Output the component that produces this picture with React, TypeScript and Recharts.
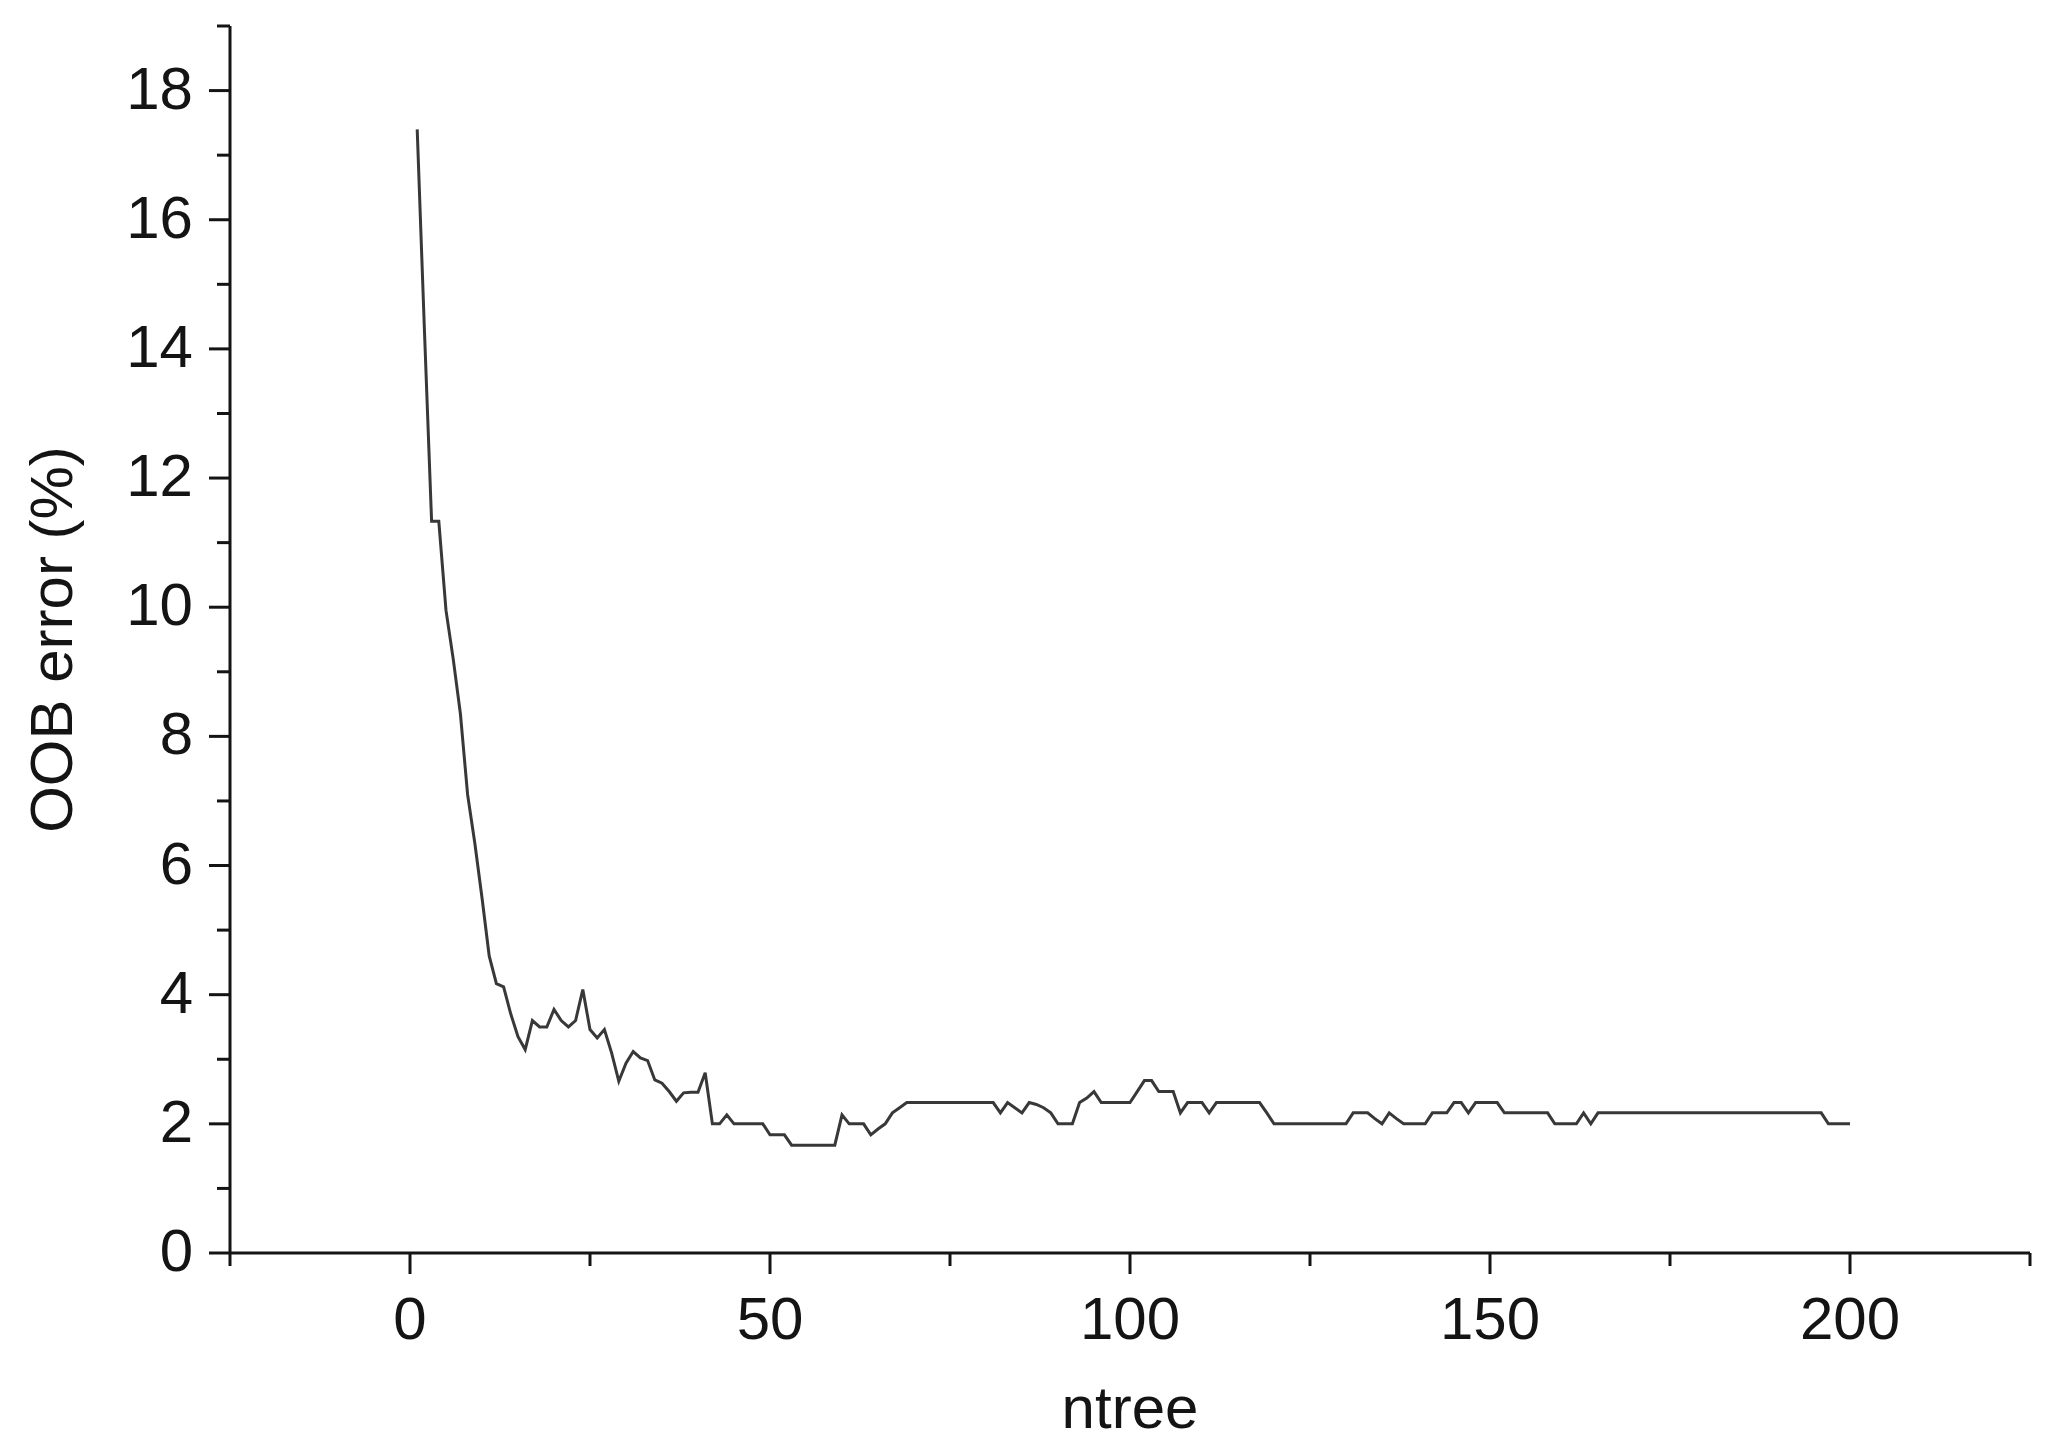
import React from 'react'

import { Label, Line, LineChart, XAxis, YAxis } from 'recharts'

// OOB error (%) for ntree = 1..200
const OOB_ERROR = [
  17.4, 14.3, 11.33, 11.33, 9.95, 9.2, 8.35, 7.1, 6.35, 5.5,
  4.6, 4.17, 4.12, 3.7, 3.35, 3.15, 3.6, 3.5, 3.5, 3.77,
  3.6, 3.5, 3.6, 4.08, 3.46, 3.33, 3.46, 3.1, 2.66, 2.94,
  3.12, 3.02, 2.98, 2.68, 2.63, 2.5, 2.35, 2.48, 2.49, 2.49,
  2.79, 2.0, 2.0, 2.14, 2.0, 2.0, 2.0, 2.0, 2.0, 1.83,
  1.83, 1.83, 1.67, 1.67, 1.67, 1.67, 1.67, 1.67, 1.67, 2.14,
  2.0, 2.0, 2.0, 1.83, 1.92, 2.0, 2.17, 2.25, 2.33, 2.33,
  2.33, 2.33, 2.33, 2.33, 2.33, 2.33, 2.33, 2.33, 2.33, 2.33,
  2.33, 2.17, 2.33, 2.25, 2.17, 2.33, 2.3, 2.25, 2.17, 2.0,
  2.0, 2.0, 2.33, 2.4, 2.5, 2.33, 2.33, 2.33, 2.33, 2.33,
  2.5, 2.67, 2.67, 2.5, 2.5, 2.5, 2.17, 2.33, 2.33, 2.33,
  2.17, 2.33, 2.33, 2.33, 2.33, 2.33, 2.33, 2.33, 2.17, 2.0,
  2.0, 2.0, 2.0, 2.0, 2.0, 2.0, 2.0, 2.0, 2.0, 2.0,
  2.17, 2.17, 2.17, 2.08, 2.0, 2.17, 2.08, 2.0, 2.0, 2.0,
  2.0, 2.17, 2.17, 2.17, 2.33, 2.33, 2.17, 2.33, 2.33, 2.33,
  2.33, 2.17, 2.17, 2.17, 2.17, 2.17, 2.17, 2.17, 2.0, 2.0,
  2.0, 2.0, 2.17, 2.0, 2.17, 2.17, 2.17, 2.17, 2.17, 2.17,
  2.17, 2.17, 2.17, 2.17, 2.17, 2.17, 2.17, 2.17, 2.17, 2.17,
  2.17, 2.17, 2.17, 2.17, 2.17, 2.17, 2.17, 2.17, 2.17, 2.17,
  2.17, 2.17, 2.17, 2.17, 2.17, 2.17, 2.0, 2.0, 2.0, 2.0,
]

const X_TICKS = [-25, 0, 25, 50, 75, 100, 125, 150, 175, 200, 225]
const Y_TICKS = [0, 1, 2, 3, 4, 5, 6, 7, 8, 9, 10, 11, 12, 13, 14, 15, 16, 17, 18, 19]

const data = OOB_ERROR.map((oob, i) => ({ ntree: i + 1, oob }))

const AXIS = '#141414'
const FONT = '"Liberation Sans", Arial, sans-serif'
const FONT_SIZE = 60

const XTick = (props: any) => {
  const { x, y, payload } = props
  const major = payload.value % 50 === 0
  return (
    <g>
      <line x1={x} y1={y} x2={x} y2={y + (major ? 21 : 13)} stroke={AXIS} strokeWidth={3} />
      {major && (
        <text x={x} y={y + 86} textAnchor="middle" fill={AXIS} fontFamily={FONT} fontSize={FONT_SIZE}>
          {payload.value}
        </text>
      )}
    </g>
  )
}

const YTick = (props: any) => {
  const { x, y, payload } = props
  const major = payload.value % 2 === 0
  return (
    <g>
      <line x1={x} y1={y} x2={x - (major ? 21 : 13)} y2={y} stroke={AXIS} strokeWidth={3} />
      {major && (
        <text x={x - 37} y={y + 18} textAnchor="end" fill={AXIS} fontFamily={FONT} fontSize={FONT_SIZE}>
          {payload.value}
        </text>
      )}
    </g>
  )
}

export default function App() {
  return (
    <div style={{ position: 'absolute', left: 0, top: 0, background: '#fff' }}>
      <LineChart width={2051} height={1449} data={data} margin={{ top: 26, right: 21, bottom: 0, left: 0 }}>
        <XAxis
          dataKey="ntree"
          type="number"
          domain={[-25, 225]}
          ticks={X_TICKS}
          interval={0}
          allowDataOverflow
          height={196}
          tickSize={0}
          tickMargin={0}
          tickLine={false}
          tick={<XTick />}
          axisLine={{ stroke: AXIS, strokeWidth: 3 }}
        >
          <Label
            content={({ viewBox }: any) => {
              const { x = 0, y = 0, width = 0 } = viewBox || {}
              return (
                <text x={x + width / 2} y={y + 175} textAnchor="middle" fill={AXIS} fontFamily={FONT} fontSize={FONT_SIZE}>
                  ntree
                </text>
              )
            }}
          />
        </XAxis>
        <YAxis
          type="number"
          domain={[0, 19]}
          ticks={Y_TICKS}
          interval={0}
          allowDataOverflow
          width={230}
          tickSize={0}
          tickMargin={0}
          tickLine={false}
          tick={<YTick />}
          axisLine={{ stroke: AXIS, strokeWidth: 3 }}
        >
          <Label
            content={({ viewBox }: any) => {
              const { y = 0, height = 0 } = viewBox || {}
              return (
                <text
                  transform={`translate(72, ${y + height / 2}) rotate(-90)`}
                  textAnchor="middle"
                  fill={AXIS}
                  fontFamily={FONT}
                  fontSize={FONT_SIZE}
                >
                  OOB error (%)
                </text>
              )
            }}
          />
        </YAxis>
        <Line
          type="linear"
          dataKey="oob"
          stroke="#383838"
          strokeWidth={3}
          dot={false}
          isAnimationActive={false}
        />
      </LineChart>
    </div>
  )
}
